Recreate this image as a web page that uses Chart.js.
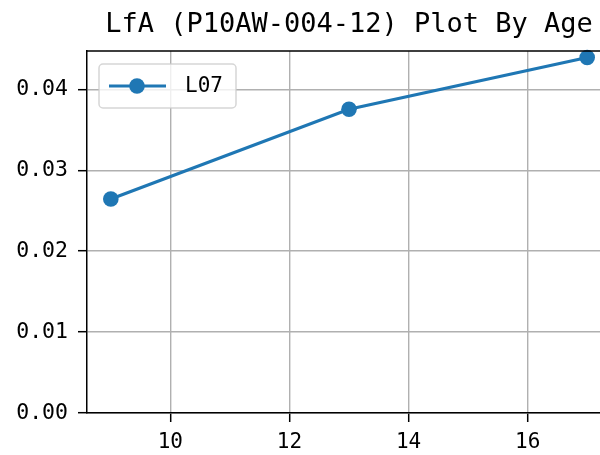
<!DOCTYPE html>
<html>
<head>
<meta charset="utf-8">
<script src="https://cdn.jsdelivr.net/npm/chart.js@4.4.0/dist/chart.umd.min.js"></script>
<style>
    html, body { margin: 0; padding: 0; background: #fff; overflow: hidden; }
    #wrap { width: 698px; height: 455px; }
</style>
</head>
<body>
<div id="wrap"><canvas id="chart" width="698" height="455"></canvas></div>
<script>
// Chart data
const ages = [9, 13, 17];
const lfaValues = [0.02645, 0.03754, 0.04392];
const seriesLabel = 'L07';
const chartTitle = 'LfA (P10AW-004-12) Plot By Age';

// Axis ticks and limits
const xTicks = [10, 12, 14, 16];
const yTicks = [0.00, 0.01, 0.02, 0.03, 0.04];
const xLimits = [8.6, 17.4];
const yLimits = [0, 0.04473];

const lineColor = '#1f77b4';
const monoFont = "'DejaVu Sans Mono', 'Liberation Mono', monospace";

// Draw the top/right spines like matplotlib
const framePlugin = {
    id: 'frame',
    afterDatasetsDraw(chart) {
        const a = chart.chartArea;
        const ctx = chart.ctx;
        ctx.save();
        ctx.strokeStyle = '#000';
        ctx.lineWidth = 1.5;
        ctx.beginPath();
        ctx.moveTo(a.left, a.top);
        ctx.lineTo(a.right, a.top);
        ctx.lineTo(a.right, a.bottom);
        ctx.stroke();
        ctx.restore();
    }
};

// Legend box in the upper left of the plot
const boxLegend = {
    id: 'boxLegend',
    afterDraw(chart) {
        const a = chart.chartArea;
        const ctx = chart.ctx;
        const ds = chart.data.datasets[0];
        const x = a.left + 12, y = a.top + 13, w = 137, h = 44;
        ctx.save();
        ctx.fillStyle = 'rgba(255,255,255,0.8)';
        ctx.strokeStyle = 'rgba(204,204,204,0.8)';
        ctx.lineWidth = 1.5;
        ctx.beginPath();
        ctx.roundRect(x, y, w, h, 4);
        ctx.fill();
        ctx.stroke();

        const cy = y + h / 2;
        ctx.strokeStyle = ds.borderColor;
        ctx.lineWidth = ds.borderWidth;
        ctx.beginPath();
        ctx.moveTo(x + 10, cy);
        ctx.lineTo(x + 67, cy);
        ctx.stroke();
        ctx.fillStyle = ds.pointBackgroundColor;
        ctx.beginPath();
        ctx.arc(x + 38, cy, ds.pointRadius, 0, Math.PI * 2);
        ctx.fill();

        ctx.fillStyle = '#000';
        ctx.font = '21px ' + monoFont;
        ctx.textBaseline = 'middle';
        ctx.fillText(ds.label, x + 86, cy + 1);
        ctx.restore();
    }
};

const ctx = document.getElementById('chart').getContext('2d');
new Chart(ctx, {
    type: 'line',
    data: {
        datasets: [{
            label: seriesLabel,
            data: ages.map((a, i) => ({ x: a, y: lfaValues[i] })),
            borderColor: lineColor,
            backgroundColor: lineColor,
            pointBackgroundColor: lineColor,
            pointBorderWidth: 0,
            borderWidth: 3.2,
            pointRadius: 7.8,
            tension: 0,
            fill: false,
            clip: false
        }]
    },
    options: {
        responsive: false,
        animation: false,
        layout: { padding: 0 },
        plugins: {
            legend: { display: false },
            tooltip: { enabled: false },
            title: {
                display: true,
                text: chartTitle,
                color: '#000',
                font: { family: monoFont, size: 27, weight: 'normal', lineHeight: 1.2 },
                padding: { top: 9, bottom: 9.6 }
            }
        },
        scales: {
            x: {
                type: 'linear',
                min: xLimits[0],
                max: xLimits[1],
                afterBuildTicks: s => { s.ticks = xTicks.map(v => ({ value: v })); },
                afterFit: s => { s.height = 42; },
                grid: { color: '#b0b0b0', lineWidth: 1.4, tickColor: '#000', tickWidth: 1.5, tickLength: 9 },
                border: { color: '#000', width: 1.5 },
                ticks: {
                    color: '#000',
                    padding: 8,
                    maxRotation: 0,
                    font: { family: monoFont, size: 21 },
                    callback: v => String(v)
                }
            },
            y: {
                type: 'linear',
                min: yLimits[0],
                max: yLimits[1],
                afterBuildTicks: s => { s.ticks = yTicks.map(v => ({ value: v })); },
                afterFit: s => { s.width = 87; },
                grid: { color: '#b0b0b0', lineWidth: 1.4, tickColor: '#000', tickWidth: 1.5, tickLength: 9 },
                border: { color: '#000', width: 1.5 },
                ticks: {
                    color: '#000',
                    padding: 10,
                    font: { family: monoFont, size: 21.5 },
                    callback: v => v.toFixed(2)
                }
            },
            // empty right-hand space so the title centres over the (clipped) plot
            pad: {
                type: 'linear',
                position: 'right',
                afterFit: s => { s.width = 87; },
                grid: { display: false, drawTicks: false },
                border: { display: false },
                ticks: { display: false }
            }
        }
    },
    plugins: [framePlugin, boxLegend]
});
</script>
</body>
</html>
